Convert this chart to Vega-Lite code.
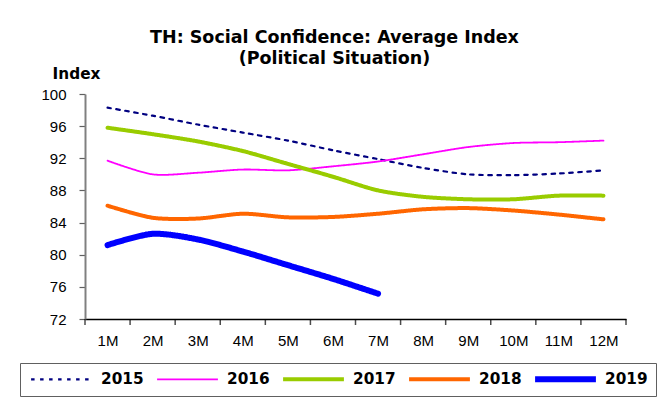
{
  "$schema": "https://vega.github.io/schema/vega-lite/v6.json",
  "width": 541,
  "height": 225,
  "autosize": {"type": "none"},
  "padding": {"left": 85, "top": 94, "right": 41, "bottom": 84},
  "background": "white",
  "config": {
    "font": "Liberation Sans",
    "view": {"stroke": null}
  },
  "title": {
    "text": ["TH: Social Confidence: Average Index", "(Political Situation)"],
    "font": "DejaVu Sans",
    "fontSize": 17.5,
    "fontWeight": "bold",
    "lineHeight": 21,
    "anchor": "middle",
    "frame": "group",
    "dx": -21,
    "dy": 9,
    "offset": 8,
    "color": "black"
  },
  "data": {
    "values": [
      {"year": "2015", "month": 1, "index": 98.3},
      {"year": "2015", "month": 2, "index": 97.3},
      {"year": "2015", "month": 3, "index": 96.2},
      {"year": "2015", "month": 4, "index": 95.2},
      {"year": "2015", "month": 5, "index": 94.2},
      {"year": "2015", "month": 6, "index": 93.0},
      {"year": "2015", "month": 7, "index": 91.9},
      {"year": "2015", "month": 8, "index": 90.8},
      {"year": "2015", "month": 9, "index": 90.0},
      {"year": "2015", "month": 10, "index": 89.9},
      {"year": "2015", "month": 11, "index": 90.1},
      {"year": "2015", "month": 12, "index": 90.5},
      {"year": "2016", "month": 1, "index": 91.7},
      {"year": "2016", "month": 2, "index": 90.0},
      {"year": "2016", "month": 3, "index": 90.2},
      {"year": "2016", "month": 4, "index": 90.6},
      {"year": "2016", "month": 5, "index": 90.5},
      {"year": "2016", "month": 6, "index": 91.0},
      {"year": "2016", "month": 7, "index": 91.6},
      {"year": "2016", "month": 8, "index": 92.5},
      {"year": "2016", "month": 9, "index": 93.4},
      {"year": "2016", "month": 10, "index": 93.9},
      {"year": "2016", "month": 11, "index": 94.0},
      {"year": "2016", "month": 12, "index": 94.2},
      {"year": "2017", "month": 1, "index": 95.8},
      {"year": "2017", "month": 2, "index": 95.0},
      {"year": "2017", "month": 3, "index": 94.1},
      {"year": "2017", "month": 4, "index": 92.9},
      {"year": "2017", "month": 5, "index": 91.3},
      {"year": "2017", "month": 6, "index": 89.7},
      {"year": "2017", "month": 7, "index": 88.0},
      {"year": "2017", "month": 8, "index": 87.2},
      {"year": "2017", "month": 9, "index": 86.9},
      {"year": "2017", "month": 10, "index": 86.9},
      {"year": "2017", "month": 11, "index": 87.35},
      {"year": "2017", "month": 12, "index": 87.35},
      {"year": "2018", "month": 1, "index": 86.1},
      {"year": "2018", "month": 2, "index": 84.6},
      {"year": "2018", "month": 3, "index": 84.5},
      {"year": "2018", "month": 4, "index": 85.1},
      {"year": "2018", "month": 5, "index": 84.65},
      {"year": "2018", "month": 6, "index": 84.7},
      {"year": "2018", "month": 7, "index": 85.1},
      {"year": "2018", "month": 8, "index": 85.65},
      {"year": "2018", "month": 9, "index": 85.8},
      {"year": "2018", "month": 10, "index": 85.5},
      {"year": "2018", "month": 11, "index": 85.0},
      {"year": "2018", "month": 12, "index": 84.4},
      {"year": "2019", "month": 1, "index": 81.2},
      {"year": "2019", "month": 2, "index": 82.6},
      {"year": "2019", "month": 3, "index": 81.9},
      {"year": "2019", "month": 4, "index": 80.4},
      {"year": "2019", "month": 5, "index": 78.7},
      {"year": "2019", "month": 6, "index": 77.0},
      {"year": "2019", "month": 7, "index": 75.15}
    ]
  },
  "layer": [
    {
      "mark": {"type": "line", "interpolate": "cardinal", "tension": 0.2, "strokeCap": "round", "strokeJoin": "round"},
      "encoding": {
        "x": {
          "field": "month",
          "type": "quantitative",
          "scale": {"domain": [0.5, 12.5], "nice": false, "zero": false},
          "axis": {
            "values": [1, 2, 3, 4, 5, 6, 7, 8, 9, 10, 11, 12],
            "tickCount": 20,
            "labelExpr": "datum.value + 'M'",
            "title": null,
            "ticks": false,
            "domainColor": "black",
            "domainWidth": 1.5,
            "grid": false,
            "labelFontSize": 15,
            "labelColor": "black",
            "labelPadding": 14,
            "labelFlush": false,
            "labelOverlap": false
          }
        },
        "y": {
          "field": "index",
          "type": "quantitative",
          "scale": {"domain": [72, 100], "nice": false, "zero": false},
          "axis": {
            "values": [72, 76, 80, 84, 88, 92, 96, 100],
            "tickCount": 10,
            "title": "Index",
            "titleFont": "DejaVu Sans",
            "titleAngle": 0,
            "titleAlign": "center",
            "titleBaseline": "middle",
            "titleX": -9,
            "titleY": -21,
            "titleFontSize": 15.3,
            "titleFontWeight": "bold",
            "titleColor": "black",
            "grid": false,
            "domainColor": "#808080",
            "domainWidth": 2,
            "tickColor": "#606060",
            "tickSize": 6,
            "tickWidth": 1.2,
            "labelFontSize": 15,
            "labelColor": "black",
            "labelPadding": 13,
            "labelOverlap": false,
            "labelFlush": false
          }
        },
        "color": {
          "field": "year",
          "type": "nominal",
          "scale": {
            "domain": ["2015", "2016", "2017", "2018", "2019"],
            "range": ["#000080", "#FF00FF", "#99CC00", "#FF6600", "#0000FF"]
          },
          "legend": {
            "title": null,
            "orient": "none",
            "legendX": -65,
            "legendY": 269,
            "direction": "horizontal",
            "columns": 5,
            "symbolType": "stroke",
            "symbolSize": 3700,
            "clipHeight": 16,
            "labelFont": "DejaVu Sans",
            "labelFontSize": 15.3,
            "labelFontWeight": "bold",
            "labelColor": "black",
            "labelOffset": 6,
            "columnPadding": 10,
            "padding": 8,
            "strokeColor": "#606060",
            "fillColor": "white"
          }
        },
        "strokeWidth": {
          "field": "year",
          "type": "nominal",
          "scale": {
            "type": "ordinal",
            "domain": ["2015", "2016", "2017", "2018", "2019"],
            "range": [2.2, 1.8, 4, 4, 6]
          },
          "legend": null
        },
        "strokeDash": {
          "field": "year",
          "type": "nominal",
          "scale": {
            "domain": ["2015", "2016", "2017", "2018", "2019"],
            "range": [[3.5, 5.5], [1, 0], [1, 0], [1, 0], [1, 0]]
          },
          "legend": null
        }
      }
    },
    {
      "mark": {"type": "tick", "color": "black", "thickness": 1.5, "size": 6, "yOffset": 3},
      "data": {"values": [
        {"edge": 0.5}, {"edge": 1.5}, {"edge": 2.5}, {"edge": 3.5}, {"edge": 4.5}, {"edge": 5.5}, {"edge": 6.5},
        {"edge": 7.5}, {"edge": 8.5}, {"edge": 9.5}, {"edge": 10.5}, {"edge": 11.5}, {"edge": 12.5}
      ]},
      "encoding": {
        "x": {"field": "edge", "type": "quantitative"},
        "y": {"datum": 72, "type": "quantitative"}
      }
    }
  ]
}
